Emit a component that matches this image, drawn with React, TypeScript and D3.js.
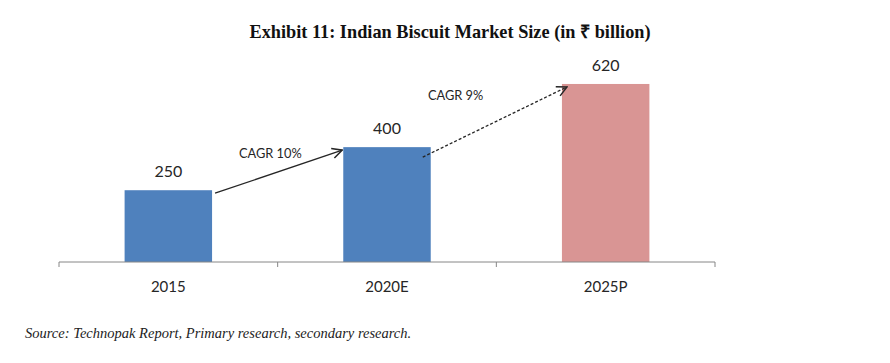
import React from "react";
import * as d3 from "d3";

const categories = ["2015", "2020E", "2025P"];
const values = [250, 400, 620];
const barColors = ["#4F81BD", "#4F81BD", "#D99594"];
const cagrLabels = ["CAGR 10%", "CAGR 9%"];
const titleText = "Exhibit 11: Indian Biscuit Market Size (in \u20B9 billion)";
const sourceText = "Source: Technopak Report, Primary research, secondary research.";

const W = 890;
const H = 363;

export default function App() {
  const x = d3.scaleBand<string>().domain(categories).range([59, 715]).paddingInner(0.6).paddingOuter(0.3);
  const y = d3.scaleLinear().domain([0, 700]).range([262, 61]);
  const step = x.step();
  const axisY = y(0);
  const tickXs = [0, 1, 2, 3].map((i) => 59 + i * step);
  const labelFont = "Lato, 'Open Sans', sans-serif";
  const serif = "'Liberation Serif', 'Times New Roman', serif";

  const arrows = [
    {
      x1: (x(categories[0]) as number) + x.bandwidth() + 3,
      y1: y(values[0]) + 3,
      x2: (x(categories[1]) as number) - 1,
      y2: y(values[1]) + 3,
      dashed: false,
      lx: 239,
      ly: 158,
      label: cagrLabels[0],
    },
    {
      x1: (x(categories[1]) as number) + x.bandwidth() - 8,
      y1: y(values[1]) + 10,
      x2: (x(categories[2]) as number) + 5,
      y2: y(values[2]) + 3,
      dashed: true,
      lx: 428,
      ly: 100,
      label: cagrLabels[1],
    },
  ];

  return (
    <svg width={W} height={H} style={{ position: "absolute", left: 0, top: 0, background: "#fff" }}>
      <defs>
        <marker id="arr" viewBox="0 0 12 12" refX="11" refY="6" markerWidth="12" markerHeight="12" markerUnits="userSpaceOnUse" orient="auto">
          <path d="M1,1 L11,6 L1,11" fill="none" stroke="#262626" strokeWidth={1.5} />
        </marker>
      </defs>
      <text x={450} y={38} textAnchor="middle" style={{ fontFamily: serif, fontWeight: "bold", fontSize: 18.3 }} fill="#111">
        {titleText}
      </text>
      {categories.map((c, i) => (
        <g key={c}>
          <rect x={x(c)} y={y(values[i])} width={x.bandwidth()} height={axisY - y(values[i])} fill={barColors[i]} />
          <text x={(x(c) as number) + x.bandwidth() / 2} y={y(values[i]) - 13} textAnchor="middle" style={{ fontFamily: labelFont, fontSize: 16 }} fill="#262626">
            {values[i]}
          </text>
          <text x={(x(c) as number) + x.bandwidth() / 2} y={292} textAnchor="middle" style={{ fontFamily: labelFont, fontSize: 15 }} fill="#262626">
            {c}
          </text>
        </g>
      ))}
      <line x1={59} x2={715} y1={axisY} y2={axisY} stroke="#868686" strokeWidth={1} />
      {tickXs.map((tx, i) => (
        <line key={i} x1={tx} x2={tx} y1={axisY} y2={axisY + 5} stroke="#868686" strokeWidth={1} />
      ))}
      {arrows.map((a, i) => (
        <g key={i}>
          <line
            x1={a.x1}
            y1={a.y1}
            x2={a.x2}
            y2={a.y2}
            stroke="#262626"
            strokeWidth={1.3}
            strokeDasharray={a.dashed ? "3,2" : undefined}
            markerEnd="url(#arr)"
          />
          <text x={a.lx} y={a.ly} style={{ fontFamily: labelFont, fontSize: 12.8 }} fill="#262626">
            {a.label}
          </text>
        </g>
      ))}
      <text x={25} y={338} style={{ fontFamily: serif, fontStyle: "italic", fontSize: 14.5 }} fill="#222">
        {sourceText}
      </text>
    </svg>
  );
}
